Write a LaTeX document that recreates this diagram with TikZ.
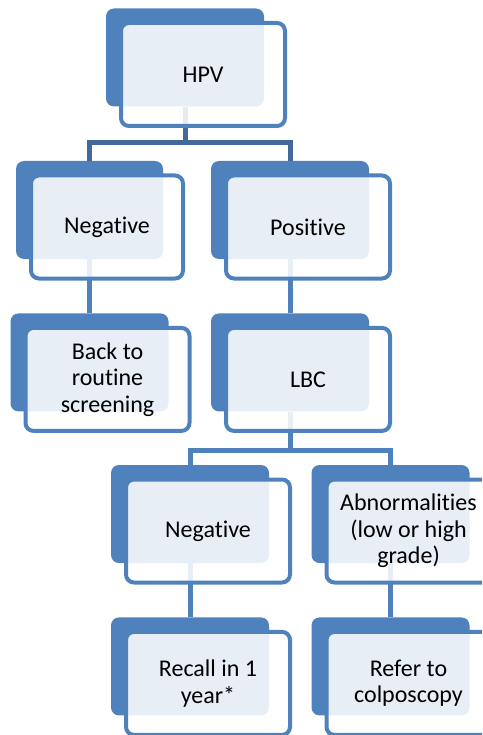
\documentclass[tikz,border=0pt]{standalone}
\usepackage{fontspec}
\setmainfont{Carlito}[Ligatures=NoCommon]
\usetikzlibrary{positioning, calc}
\definecolor{smblue}{HTML}{4F81BD}
\definecolor{smdark}{HTML}{41699C}

\begin{document}
\begin{tikzpicture}[x=1pt, y=-1pt,
  back/.style={rectangle, rounded corners=8pt, fill=smblue, minimum width=158pt,
               minimum height=98pt, inner sep=0pt},
  card/.style={rectangle, rounded corners=8pt, draw=smblue, line width=4pt,
               fill=white, fill opacity=0.87, text opacity=1, minimum width=164pt,
               minimum height=103pt, inner sep=2pt, align=center,
               font=\fontsize{24}{26.5}\selectfont},
  link/.style={draw=smblue, line width=5pt},
  node distance=54pt,
]
  \clip (0,0) rectangle (482,735);

  % back plates
  \node[back] (hpv) at (185,57.5) {};
  \node[back, minimum width=147pt] (neg) at (89.5,210) {};
  \node[back] (pos) at (290,210) {};
  \node[back, below=of neg] (routine) {};
  \node[back, below=of pos] (lbc) {};
  \node[back] (neglbc) at (190,514) {};
  \node[back] (abn) at (390.5,514) {};
  \node[back, below=of neglbc] (recall) {};
  \node[back, below=of abn] (refer) {};

  % connectors
  \coordinate (j1) at ($(hpv.south)+(0,36)$);
  \draw[link, draw=smdark] (hpv.south) -- (j1);
  \draw[link, draw=smdark] (neg.north) |- (j1) -| (pos.north);
  \draw[link] (neg) -- (routine);
  \draw[link] (pos) -- (lbc);
  \coordinate (j2) at ($(lbc.south)+(0,39)$);
  \draw[link] (lbc.south) -- (j2);
  \draw[link] (neglbc.north) |- (j2) -| (abn.north);
  \draw[link] (neglbc) -- (recall);
  \draw[link] (abn) -- (refer);

  % front cards
  \node[card] (hpvt) at ($(hpv)+(18,17)$) {HPV};
  \node[card, minimum width=152pt] (negt) at ($(neg)+(17.5,17)$) {Negative};
  \node[card] (post) at ($(pos)+(18,17)$) {Positive};
  \node[card] (routinet) at ($(routine)+(18,17)$) {Back to\\routine\\screening};
  \node[card] (lbct) at ($(lbc)+(18,17)$) {LBC};
  \node[card] (neglbct) at ($(neglbc)+(18,17)$) {Negative};
  \node[card] (abnt) at ($(abn)+(18,17)$) {Abnormalities\\(low or high\\grade)};
  \node[card] (recallt) at ($(recall)+(18,17)$) {Recall in 1\\year*};
  \node[card] (refert) at ($(refer)+(18,17)$) {Refer to\\colposcopy};
\end{tikzpicture}
\end{document}
